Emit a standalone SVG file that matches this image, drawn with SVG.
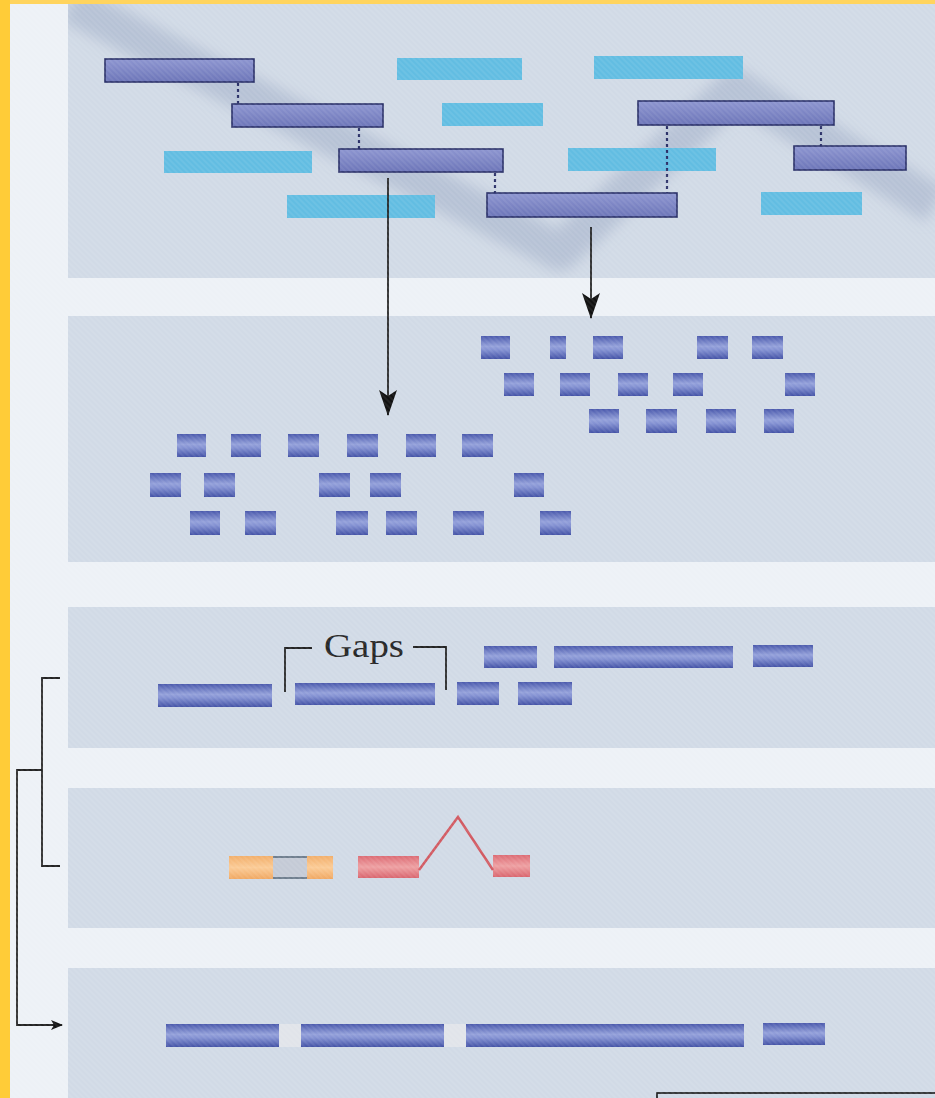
<svg xmlns="http://www.w3.org/2000/svg" width="935" height="1098" viewBox="0 0 935 1098">
<defs>
<style>
.panel{fill:#D1DAE6}
.clone{fill:url(#gClone);stroke:#2A3068;stroke-width:1.6}
.cyan{fill:#62BDE2}
.blue{fill:url(#gBlue)}
.dash{stroke:#2A3068;stroke-width:2.2;stroke-dasharray:3 3;fill:none}
.line{stroke:#222;stroke-width:1.8;fill:none}
.lbl{font-family:"Liberation Serif","Times New Roman",serif;font-size:34px;fill:#262626}
</style>
<linearGradient id="gClone" x1="0" y1="0" x2="0" y2="1">
<stop offset="0" stop-color="#8D95D0"/><stop offset="1" stop-color="#6C75B8"/>
</linearGradient>
<linearGradient id="gBlue" x1="0" y1="0" x2="0" y2="1">
<stop offset="0" stop-color="#4A59AC"/><stop offset="0.45" stop-color="#93A0DA"/><stop offset="0.6" stop-color="#8391D2"/><stop offset="1" stop-color="#4352A6"/>
</linearGradient>
<linearGradient id="gOrange" x1="0" y1="0" x2="0" y2="1">
<stop offset="0" stop-color="#F2AE6A"/><stop offset="0.5" stop-color="#FBCB96"/><stop offset="1" stop-color="#F0A862"/>
</linearGradient>
<linearGradient id="gRed" x1="0" y1="0" x2="0" y2="1">
<stop offset="0" stop-color="#DC6B74"/><stop offset="0.5" stop-color="#EEA0A2"/><stop offset="1" stop-color="#D9656E"/>
</linearGradient>
<pattern id="hatch" width="4" height="4" patternUnits="userSpaceOnUse" patternTransform="rotate(45)">
<rect width="4" height="2" fill="#ffffff"/>
</pattern>
<filter id="soft" x="-10%" y="-20%" width="120%" height="140%">
<feGaussianBlur stdDeviation="7"/>
</filter>
<clipPath id="clipTop"><rect x="68" y="4" width="867" height="274"/></clipPath>
<marker id="arr" viewBox="0 0 12 10" refX="11" refY="5" markerWidth="12" markerHeight="10" markerUnits="userSpaceOnUse" orient="auto">
<path d="M0,0 L12,5 L0,10 L3,5 Z" fill="#111"/>
</marker>
<marker id="arrDown" viewBox="0 0 26 18" refX="25" refY="9" markerWidth="26" markerHeight="18" markerUnits="userSpaceOnUse" orient="auto">
<path d="M0,0 L26,9 L0,18 L6,9 Z" fill="#111"/>
</marker>
</defs>

<!-- page -->
<rect x="0" y="0" width="935" height="1098" fill="#EDF1F6"/>
<rect x="0" y="0" width="935" height="4" fill="#FFD45E"/>
<rect x="0" y="0" width="10" height="1098" fill="#FFCC38"/>

<!-- panels -->
<g id="panels">
<rect class="panel" x="68" y="4" width="867" height="274"/>
<rect class="panel" x="68" y="316" width="867" height="246"/>
<rect class="panel" x="68" y="607" width="867" height="141"/>
<rect class="panel" x="68" y="788" width="867" height="140"/>
<rect class="panel" x="68" y="968" width="867" height="130"/>
</g>

<!-- shadow band -->
<g clip-path="url(#clipTop)">
<polyline points="70,4 560,252 735,88 935,205" fill="none" stroke="#97A5C2" stroke-opacity="0.45" stroke-width="38" stroke-linejoin="round" filter="url(#soft)"/>
</g>

<g id="library">
<g id="cyan-clones">
<rect class="cyan" x="397" y="58" width="125" height="22"/>
<rect class="cyan" x="594" y="56" width="149" height="23"/>
<rect class="cyan" x="442" y="103" width="101" height="23"/>
<rect class="cyan" x="164" y="151" width="148" height="22"/>
<rect class="cyan" x="568" y="148" width="148" height="23"/>
<rect class="cyan" x="287" y="195" width="148" height="23"/>
<rect class="cyan" x="761" y="192" width="101" height="23"/>
</g>
<g id="tiling-clones">
<rect class="clone" x="105" y="59" width="149" height="23"/>
<rect class="clone" x="232" y="104" width="151" height="23"/>
<rect class="clone" x="339" y="149" width="164" height="23"/>
<rect class="clone" x="487" y="193" width="190" height="24"/>
<rect class="clone" x="638" y="101" width="196" height="24"/>
<rect class="clone" x="794" y="146" width="112" height="24"/>
</g>
</g>

<g id="connectors">
<line class="dash" x1="238" y1="83" x2="238" y2="104"/>
<line class="dash" x1="359" y1="128" x2="359" y2="149"/>
<line class="dash" x1="495" y1="173" x2="495" y2="193"/>
<line class="dash" x1="667" y1="126" x2="667" y2="193"/>
<line class="dash" x1="821" y1="126" x2="821" y2="146"/>
<line class="line" x1="388" y1="178" x2="388" y2="415" marker-end="url(#arrDown)"/>
<line class="line" x1="591" y1="227" x2="591" y2="318" marker-end="url(#arrDown)"/>
<polyline class="line" points="60,678 42,678 42,866 60,866"/>
<polyline class="line" points="42,770 17,770 17,1025 62,1025" marker-end="url(#arr)"/>
<polyline class="line" points="285,692 285,648 312,648"/>
<polyline class="line" points="413,647 446,647 446,690"/>
</g>

<g id="fragments-right">
<rect class="blue" x="481" y="336" width="29" height="23"/>
<rect class="blue" x="550" y="336" width="16" height="23"/>
<rect class="blue" x="593" y="336" width="30" height="23"/>
<rect class="blue" x="697" y="336" width="31" height="23"/>
<rect class="blue" x="752" y="336" width="31" height="23"/>
<rect class="blue" x="504" y="373" width="30" height="23"/>
<rect class="blue" x="560" y="373" width="30" height="23"/>
<rect class="blue" x="618" y="373" width="30" height="23"/>
<rect class="blue" x="673" y="373" width="30" height="23"/>
<rect class="blue" x="785" y="373" width="30" height="23"/>
<rect class="blue" x="589" y="409" width="30" height="24"/>
<rect class="blue" x="646" y="409" width="31" height="24"/>
<rect class="blue" x="706" y="409" width="30" height="24"/>
<rect class="blue" x="764" y="409" width="30" height="24"/>
</g>

<g id="fragments-left">
<rect class="blue" x="177" y="434" width="29" height="23"/>
<rect class="blue" x="231" y="434" width="30" height="23"/>
<rect class="blue" x="288" y="434" width="31" height="23"/>
<rect class="blue" x="347" y="434" width="31" height="23"/>
<rect class="blue" x="406" y="434" width="30" height="23"/>
<rect class="blue" x="462" y="434" width="31" height="23"/>
<rect class="blue" x="150" y="473" width="31" height="24"/>
<rect class="blue" x="204" y="473" width="31" height="24"/>
<rect class="blue" x="319" y="473" width="31" height="24"/>
<rect class="blue" x="370" y="473" width="31" height="24"/>
<rect class="blue" x="514" y="473" width="30" height="24"/>
<rect class="blue" x="190" y="511" width="30" height="24"/>
<rect class="blue" x="245" y="511" width="31" height="24"/>
<rect class="blue" x="336" y="511" width="32" height="24"/>
<rect class="blue" x="386" y="511" width="31" height="24"/>
<rect class="blue" x="453" y="511" width="31" height="24"/>
<rect class="blue" x="540" y="511" width="31" height="24"/>
</g>

<g id="assembly-gaps">
<rect class="blue" x="158" y="684" width="114" height="23"/>
<rect class="blue" x="295" y="683" width="140" height="22"/>
<rect class="blue" x="457" y="682" width="42" height="23"/>
<rect class="blue" x="518" y="682" width="54" height="23"/>
<rect class="blue" x="484" y="646" width="53" height="22"/>
<rect class="blue" x="554" y="646" width="179" height="22"/>
<rect class="blue" x="753" y="645" width="60" height="22"/>
<text class="lbl" x="324" y="657" textLength="80" lengthAdjust="spacingAndGlyphs">Gaps</text>
</g>

<g id="gap-filling">
<rect x="229" y="856" width="104" height="23" fill="url(#gOrange)"/>
<rect x="273" y="857" width="34" height="21" fill="#C4CAD6"/>
<line x1="273" y1="857" x2="307" y2="857" stroke="#6F7E8E" stroke-width="2"/>
<line x1="273" y1="878" x2="307" y2="878" stroke="#6F7E8E" stroke-width="2"/>
<rect x="358" y="856" width="61" height="22" fill="url(#gRed)"/>
<rect x="493" y="855" width="37" height="22" fill="url(#gRed)"/>
<polyline points="419,870 458,817 493,870" fill="none" stroke="#D25A62" stroke-width="2.5"/>
</g>

<g id="finished">
<rect class="blue" x="166" y="1024" width="578" height="23"/>
<rect x="279" y="1024" width="22" height="23" fill="#E1E4EA"/>
<rect x="444" y="1024" width="22" height="23" fill="#E1E4EA"/>
<rect class="blue" x="763" y="1023" width="62" height="22"/>
</g>

<rect x="657" y="1093" width="290" height="20" fill="none" stroke="#111" stroke-width="1.6"/>

<rect x="10" y="4" width="925" height="1094" fill="url(#hatch)" opacity="0.07"/>
</svg>
